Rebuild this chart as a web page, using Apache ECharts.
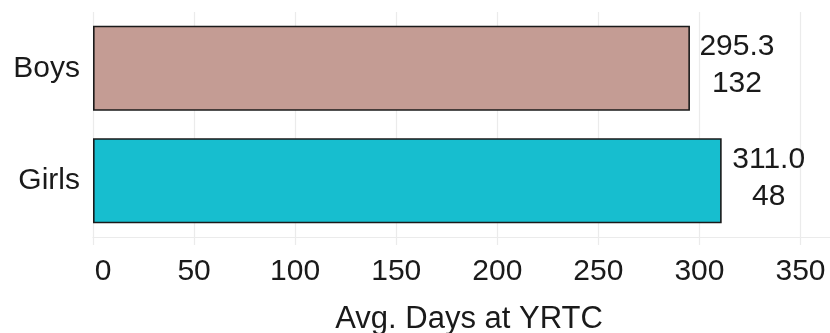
<!DOCTYPE html>
<html>
<head>
<meta charset="utf-8">
<script src="https://cdn.jsdelivr.net/npm/echarts@6/dist/echarts.min.js"></script>
<style>
html,body{margin:0;padding:0;background:#fff;}
#chart{width:830px;height:333px;}
</style>
</head>
<body>
<div id="chart"></div>
<script>
const categories = ['Boys', 'Girls'];
const avgDays = [295.3, 311.0];
const counts = [132, 48];
const barColors = ['#c49c94', '#17becf'];
const xTicks = [0, 50, 100, 150, 200, 250, 300, 350];
const xTitle = 'Avg. Days at YRTC';

const FONT = "'Liberation Sans', Arial, sans-serif";
const chart = echarts.init(document.getElementById('chart'));

chart.setOption({
  animation: false,
  backgroundColor: '#ffffff',
  grid: { left: 93, top: 12, width: 752, height: 225, containLabel: false, outerBoundsMode: 'none' },
  xAxis: {
    type: 'value',
    min: xTicks[0],
    max: 372,
    interval: xTicks[1] - xTicks[0],
    name: xTitle,
    nameLocation: 'middle',
    nameGap: 67,
    nameTextStyle: { fontFamily: FONT, fontSize: 31, color: '#1a1a1a' },
    axisLine: { show: true, lineStyle: { color: '#ebebeb', width: 1.2 } },
    axisTick: { show: true, length: 8, lineStyle: { color: '#ebebeb', width: 1.2 } },
    splitLine: { show: true, showMaxLine: false, lineStyle: { color: '#ebebeb', width: 1.2 } },
    axisLabel: {
      fontFamily: FONT, fontSize: 30, color: '#1a1a1a', margin: 20,
      showMaxLabel: false,
      formatter: v => (xTicks.includes(v) ? (v === 0 ? '{z|0}' : String(v)) : ''),
      rich: { z: { fontFamily: FONT, fontSize: 30, color: '#1a1a1a', padding: [0, 0, 0, 20] } }
    }
  },
  yAxis: {
    type: 'category',
    data: categories,
    inverse: true,
    axisLine: { show: false },
    axisTick: { show: false },
    splitLine: { show: false },
    axisLabel: { fontFamily: FONT, fontSize: 30, color: '#1a1a1a', margin: 13 }
  },
  series: [{
    type: 'bar',
    barWidth: 85,
    data: avgDays.map((v, i) => ({
      value: v,
      itemStyle: { color: barColors[i] }
    })),
    itemStyle: { borderColor: '#1a1a1a', borderWidth: 1.6 },
    label: {
      show: true,
      position: 'right',
      distance: 47,
      align: 'center',
      verticalAlign: 'middle',
      offset: [0, -3],
      fontFamily: FONT,
      fontSize: 30,
      lineHeight: 37,
      color: '#1a1a1a',
      formatter: p => p.value.toFixed(1) + '\n' + counts[p.dataIndex]
    }
  }]
});
</script>
</body>
</html>
